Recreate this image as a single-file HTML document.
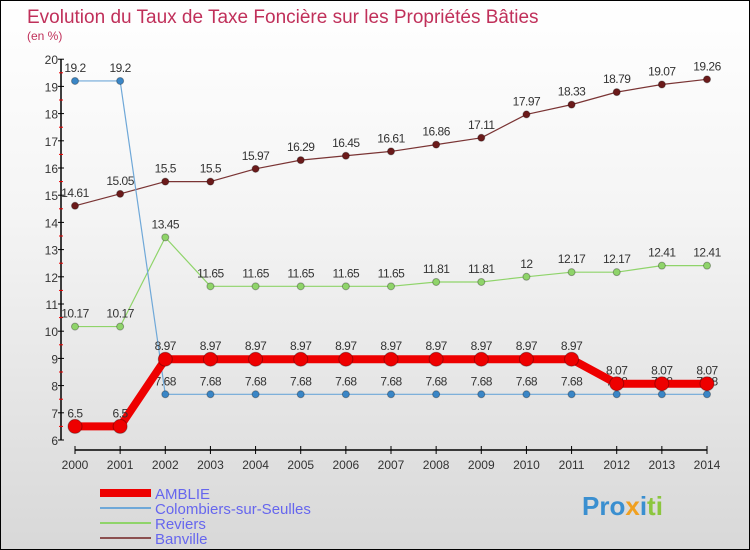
<!DOCTYPE html>
<html><head><meta charset="utf-8"><style>
body{margin:0}
#c{width:750px;height:550px;position:relative;box-sizing:border-box;border:1px solid #000;background:linear-gradient(#fff,#f4f4f4 40%,#d8d8d8);font-family:"Liberation Sans",sans-serif;overflow:hidden}
</style></head><body>
<div id="c">
<svg width="750" height="550" style="position:absolute;left:-1px;top:-1px" id="s">
<text x="27" y="23" font-size="19" fill="#c0305a">Evolution du Taux de Taxe Foncière sur les Propriétés Bâties</text>
<text x="27" y="40" font-size="12" fill="#c0305a">(en %)</text>
<g id="axes"></g><g id="series"></g><g id="legend"></g>
</svg>
</div>
<script>
const years=[2000,2001,2002,2003,2004,2005,2006,2007,2008,2009,2010,2011,2012,2013,2014];
const amblie=[6.5,6.5,8.97,8.97,8.97,8.97,8.97,8.97,8.97,8.97,8.97,8.97,8.07,8.07,8.07];
const colombiers=[19.2,19.2,7.68,7.68,7.68,7.68,7.68,7.68,7.68,7.68,7.68,7.68,7.68,7.68,7.68];
const reviers=[10.17,10.17,13.45,11.65,11.65,11.65,11.65,11.65,11.81,11.81,12,12.17,12.17,12.41,12.41];
const banville=[14.61,15.05,15.5,15.5,15.97,16.29,16.45,16.61,16.86,17.11,17.97,18.33,18.79,19.07,19.26];
const yTicks=[6,7,8,9,10,11,12,13,14,15,16,17,18,19,20];
const NS="http://www.w3.org/2000/svg";
const xs=i=>75+i*(632/(years.length-1));
const ys=v=>440-(v-6)*27.2;
function mk(t,a,p){const e=document.createElementNS(NS,t);for(const k in a)e.setAttribute(k,a[k]);p.appendChild(e);return e;}
const ax=document.getElementById('axes');
let yl=mk('line',{x1:61,x2:61,y1:ys(20),y2:440,stroke:'#000','stroke-width':1.5},ax);

yTicks.forEach(v=>{
 mk('line',{x1:58,x2:64,y1:ys(v),y2:ys(v),stroke:'#000'},ax);
 if(v<20)mk('line',{x1:59,x2:63,y1:ys(v+0.5),y2:ys(v+0.5),stroke:'#e00'},ax);
 const t=mk('text',{x:58,y:ys(v)+5,'text-anchor':'end','font-size':12,fill:'#333'},ax);t.textContent=v;
 
});
let xl=mk('line',{x1:75,x2:707,y1:450,y2:450,stroke:'#000','stroke-width':1.5},ax);

years.forEach((y,i)=>{
 mk('line',{x1:xs(i),x2:xs(i),y1:446,y2:454,stroke:'#000'},ax);
 const t=mk('text',{x:xs(i),y:469,'text-anchor':'middle','font-size':12,fill:'#333'},ax);t.textContent=y;
 
});
const sg=document.getElementById('series');
function series(data,color,w,r,dot,name){
 const g=mk('g',{},sg);
 
 const pl=mk('polyline',{points:data.map((v,i)=>xs(i)+','+ys(v)).join(' '),fill:'none',stroke:color,'stroke-width':w,'stroke-linejoin':'round'},g);
 
 data.forEach((v,i)=>{
  const c=mk('circle',{cx:xs(i),cy:ys(v),r:r,fill:dot,stroke:'rgba(0,0,0,0.3)'},g);
  
  const t=mk('text',{x:xs(i),y:ys(v)-9,'text-anchor':'middle','font-size':12,fill:'#333','letter-spacing':'-0.5'},g);t.textContent=v;
  
 });
}
series(banville,'#7a3434',1.2,3.5,'#6b1a1a','banville');
series(reviers,'#8fd46a',1.2,3.5,'#8fd46a','reviers');
series(colombiers,'#6fa8d8',1.2,3.5,'#3a86c6','colombiers');
series(amblie,'#ee0000',8,7,'#ee0000','amblie');
const lg=document.getElementById('legend');
[['AMBLIE','#ee0000',8],['Colombiers-sur-Seulles','#6fa8d8',2],['Reviers','#8fd46a',2],['Banville','#8b5050',2]].forEach((d,i)=>{
 const y=493+i*15;
 const l=mk('line',{x1:100,x2:151,y1:y,y2:y,stroke:d[1],'stroke-width':d[2]},lg);
 
 const t=mk('text',{x:155,y:y+6,'font-size':15,fill:'#6666ee'},lg);t.textContent=d[0];
 
});
const p=mk('text',{x:582,y:515,'font-size':26,'font-weight':'bold',fill:'#3a8fd0'},lg);
p.innerHTML='<tspan fill="#3a8fd0">Pro</tspan><tspan fill="#f0a020">x</tspan><tspan fill="#3a8fd0">i</tspan><tspan fill="#8cc63f">ti</tspan>';

</script>
</body></html>
